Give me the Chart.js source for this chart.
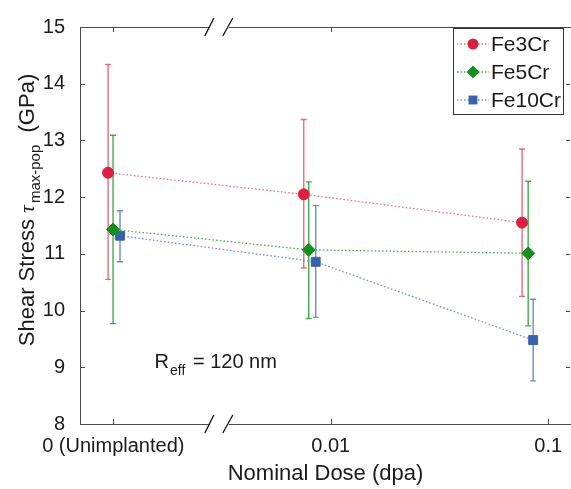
<!DOCTYPE html>
<html>
<head>
<meta charset="utf-8">
<script src="https://cdn.jsdelivr.net/npm/chart.js@4.4.0/dist/chart.umd.min.js"></script>
<style>
  html, body { margin: 0; padding: 0; background: #fff; }
</style>
</head>
<body>
<canvas id="c" width="571" height="489"></canvas>
<script>
// broken dose axis: positions are log10(dose), the unimplanted group is parked at -3
const tickPos = [-3, -2, -1];
const tickLabels = ['0 (Unimplanted)', '0.01', '0.1'];
const yTicks = [8, 9, 10, 11, 12, 13, 14, 15];

// x position of every measured point (log10 of actual dose)
const fe3X = [-3.024, -2.124, -1.120];
const fe5X = [-3.001, -2.101, -1.092];
const fe10X = [-2.969, -2.069, -1.069];

// shear stress means and error bar limits (GPa)
const fe3Y = [12.43, 12.05, 11.55];
const fe3Lo = [10.55, 10.75, 10.25];
const fe3Hi = [14.34, 13.37, 12.85];

const fe5Y = [11.43, 11.07, 11.01];
const fe5Lo = [9.77, 9.86, 9.73];
const fe5Hi = [13.09, 12.27, 12.28];

const fe10Y = [11.32, 10.86, 9.48];
const fe10Lo = [10.86, 9.88, 8.76];
const fe10Hi = [11.76, 11.85, 10.20];

const FONT = '"Liberation Sans", Arial, Helvetica, sans-serif';

function pts(xs, ys) {
    return xs.map((x, i) => ({x: x, y: ys[i]}));
}

// error bars under the markers
const errorBars = {
    id: 'errorBars',
    beforeDatasetsDraw(chart) {
        const ctx = chart.ctx;
        const xs = chart.scales.x, ys = chart.scales.y;
        chart.data.datasets.forEach(ds => {
            ctx.save();
            ctx.strokeStyle = ds.barColor;
            ctx.lineWidth = 1.4;
            ds.data.forEach((p, j) => {
                const px = xs.getPixelForValue(p.x);
                const top = ys.getPixelForValue(ds.hi[j]);
                const bot = ys.getPixelForValue(ds.lo[j]);
                ctx.beginPath();
                ctx.moveTo(px, top); ctx.lineTo(px, bot);
                ctx.moveTo(px - 3, top); ctx.lineTo(px + 3, top);
                ctx.moveTo(px - 3, bot); ctx.lineTo(px + 3, bot);
                ctx.stroke();
            });
            ctx.restore();
        });
    }
};

// axis box with the break marks and inward ticks
const frame = {
    id: 'frame',
    afterDraw(chart) {
        const ctx = chart.ctx;
        const a = chart.chartArea;
        const xs = chart.scales.x, ys = chart.scales.y;
        const bx = xs.getPixelForValue(-2.51);
        ctx.save();
        ctx.strokeStyle = '#4a4a4a';
        ctx.lineWidth = 1;
        ctx.beginPath();
        ctx.moveTo(a.left + 0.5, a.top); ctx.lineTo(a.left + 0.5, a.bottom);
        [a.top + 0.5, a.bottom + 0.5].forEach(yy => {
            ctx.moveTo(a.left, yy); ctx.lineTo(bx - 10, yy);
            ctx.moveTo(bx + 9, yy); ctx.lineTo(a.right, yy);
        });
        // ticks
        tickPos.forEach(v => {
            const px = Math.round(xs.getPixelForValue(v)) + 0.5;
            ctx.moveTo(px, a.bottom); ctx.lineTo(px, a.bottom - 5);
            ctx.moveTo(px, a.top); ctx.lineTo(px, a.top + 5);
        });
        yTicks.forEach(v => {
            const py = Math.round(ys.getPixelForValue(v)) + 0.5;
            ctx.moveTo(a.left, py); ctx.lineTo(a.left + 5, py);
            ctx.moveTo(a.right - 1, py); ctx.lineTo(a.right - 5, py);
        });
        ctx.stroke();
        // break slashes
        ctx.strokeStyle = '#111';
        ctx.lineWidth = 1.3;
        ctx.beginPath();
        [a.top, a.bottom].forEach(yy => {
            ctx.moveTo(bx - 15, yy + 9); ctx.lineTo(bx - 6, yy - 9);
            ctx.moveTo(bx + 3, yy + 9); ctx.lineTo(bx + 13, yy - 9);
        });
        ctx.stroke();
        ctx.restore();
    }
};

// y title with the tau subscript, the in-plot legend and the R_eff note
const extras = {
    id: 'extras',
    afterDraw(chart) {
        const ctx = chart.ctx;
        const xs = chart.scales.x, ys = chart.scales.y;
        ctx.save();
        ctx.fillStyle = '#1a1a1a';
        // y title
        ctx.translate(26, 210);
        ctx.rotate(-Math.PI / 2);
        const mainF = '22px ' + FONT, tauF = 'italic 22px "Liberation Serif", serif', subF = '15px ' + FONT;
        const p1 = 'Shear Stress ', p2 = 'τ', p3 = 'max-pop', p4 = '  (GPa)';
        ctx.font = mainF; const w1 = ctx.measureText(p1).width, w4 = ctx.measureText(p4).width;
        ctx.font = tauF; const w2 = ctx.measureText(p2).width + 2;
        ctx.font = subF; const w3 = ctx.measureText(p3).width;
        let x0 = -(w1 + w2 + w3 + w4) / 2;
        ctx.textBaseline = 'alphabetic';
        ctx.textAlign = 'left';
        ctx.font = mainF; ctx.fillText(p1, x0, 8); x0 += w1;
        ctx.font = tauF; ctx.fillText(p2, x0, 8); x0 += w2;
        ctx.font = subF; ctx.fillText(p3, x0, 14); x0 += w3;
        ctx.font = mainF; ctx.fillText(p4, x0, 8);
        ctx.restore();

        // R_eff annotation
        ctx.save();
        ctx.fillStyle = '#1a1a1a';
        ctx.textBaseline = 'alphabetic';
        const ax = xs.getPixelForValue(-2.81), ay = ys.getPixelForValue(8.98);
        ctx.font = '20px ' + FONT;
        ctx.fillText('R', ax, ay);
        let rx = ax + ctx.measureText('R').width + 1;
        ctx.font = '14px ' + FONT;
        ctx.fillText('eff', rx, ay + 7);
        rx += ctx.measureText('eff').width + 2;
        ctx.font = '20px ' + FONT;
        ctx.fillText(' = 120 nm', rx, ay);
        ctx.restore();

        // legend
        ctx.save();
        const lx = 453, ly = 28, lw = 110, lh = 86;
        ctx.fillStyle = '#fff';
        ctx.fillRect(lx, ly, lw, lh);
        ctx.strokeStyle = '#333';
        ctx.lineWidth = 1;
        ctx.strokeRect(lx + 0.5, ly + 0.5, lw, lh);
        chart.data.datasets.forEach((ds, i) => {
            const cy = ly + 16 + i * 28;
            ctx.strokeStyle = ds.borderColor;
            ctx.lineWidth = 1.3;
            ctx.setLineDash([1.5, 2]);
            ctx.beginPath();
            ctx.moveTo(lx + 4, cy); ctx.lineTo(lx + 36, cy);
            ctx.stroke();
            ctx.setLineDash([]);
            ctx.fillStyle = ds.pointBackgroundColor;
            const mx = lx + 20;
            ctx.beginPath();
            if (ds.pointStyle === 'circle') {
                ctx.arc(mx, cy, ds.pointRadius, 0, Math.PI * 2);
            } else if (ds.pointStyle === 'rectRot') {
                const r = ds.pointRadius;
                ctx.moveTo(mx, cy - r); ctx.lineTo(mx + r, cy); ctx.lineTo(mx, cy + r); ctx.lineTo(mx - r, cy);
                ctx.closePath();
            } else {
                const h = ds.pointRadius * Math.SQRT1_2;
                ctx.rect(mx - h, cy - h, 2 * h, 2 * h);
            }
            ctx.fill();
            ctx.fillStyle = '#1a1a1a';
            ctx.font = '21px ' + FONT;
            ctx.textBaseline = 'middle';
            ctx.fillText(ds.label, lx + 38, cy + 1);
        });
        ctx.restore();
    }
};

const line = (label, xs, ys, lo, hi, col, lineCol, style, r) => ({
    label: label,
    data: pts(xs, ys),
    lo: lo,
    hi: hi,
    barColor: lineCol,
    showLine: true,
    borderColor: lineCol,
    borderWidth: 1.3,
    borderDash: [1.5, 2.2],
    pointStyle: style,
    pointRadius: r,
    pointBackgroundColor: col,
    pointBorderColor: col,
    pointBorderWidth: 1
});

new Chart(document.getElementById('c'), {
    type: 'scatter',
    data: {
        datasets: [
            line('Fe3Cr', fe3X, fe3Y, fe3Lo, fe3Hi, '#dc1f43', '#ec6a80', 'circle', 5.5),
            line('Fe5Cr', fe5X, fe5Y, fe5Lo, fe5Hi, '#13901c', '#42ad47', 'rectRot', 6.5),
            line('Fe10Cr', fe10X, fe10Y, fe10Lo, fe10Hi, '#3a62ab', '#6d8cc6', 'rect', 6.3)
        ]
    },
    options: {
        responsive: false,
        devicePixelRatio: 1,
        animation: false,
        layout: {autoPadding: false, padding: {top: 20, right: 0, left: 0, bottom: 0}},
        plugins: {legend: {display: false}, tooltip: {enabled: false}},
        scales: {
            x: {
                type: 'linear',
                min: -3.153,
                max: -0.895,
                afterBuildTicks: s => { s.ticks = tickPos.map(v => ({value: v})); },
                afterFit: s => { s.height = 65; s.paddingLeft = 0; s.paddingRight = 0; },
                ticks: {
                    autoSkip: false,
                    maxRotation: 0,
                    padding: 10,
                    color: '#1a1a1a',
                    font: {family: FONT, size: 20},
                    callback: v => tickLabels[tickPos.indexOf(v)]
                },
                grid: {display: false, drawTicks: false},
                border: {display: false},
                title: {
                    display: true,
                    text: 'Nominal Dose (dpa)',
                    color: '#1a1a1a',
                    font: {family: FONT, size: 22},
                    padding: {top: 0, bottom: 2}
                }
            },
            y: {
                min: 8,
                max: 15,
                afterBuildTicks: s => { s.ticks = yTicks.map(v => ({value: v})); },
                afterFit: s => { s.width = 80; },
                ticks: {
                    padding: 15,
                    color: '#1a1a1a',
                    font: {family: FONT, size: 20}
                },
                grid: {display: false, drawTicks: false},
                border: {display: false}
            }
        }
    },
    plugins: [errorBars, frame, extras]
});
</script>
</body>
</html>
